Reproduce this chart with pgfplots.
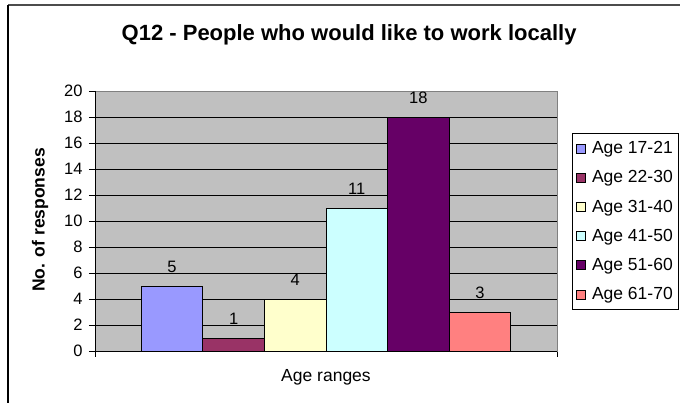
\documentclass[border=0pt]{standalone}
\usepackage{fontspec}
\setmainfont{Liberation Sans}
\usepackage{pgfplots}
\pgfplotsset{compat=1.18}

% Excel 2003 palette
\definecolor{cA}{HTML}{9999FF}
\definecolor{cB}{HTML}{993366}
\definecolor{cC}{HTML}{FFFFCC}
\definecolor{cD}{HTML}{CCFFFF}
\definecolor{cE}{HTML}{660066}
\definecolor{cF}{HTML}{FF8080}
\definecolor{plotbg}{HTML}{C0C0C0}

\begin{document}
\begin{tikzpicture}
\path[use as bounding box] (0pt,0pt) rectangle (680pt,403pt);
\draw[line width=1.2pt, black!70] (8pt,398pt) -- (700pt,398pt);
\draw[line width=1.2pt] (8pt,-10pt) -- (8pt,398pt);

\begin{axis}[
  at={(95pt,52pt)}, anchor=south west,
  scale only axis, width=462pt, height=260pt,
  ybar, bar shift=0pt, bar width=1,
  xmin=0, xmax=7.5, ymin=0, ymax=20,
  ytick={0,2,...,20},
  xtick={0,7.5}, xticklabels={},
  tick pos=left,
  tick align=outside, major tick length=6pt,
  tick style={black, line width=0.8pt},
  ymajorgrids, grid style={black, line width=0.8pt},
  axis line style={black!50, line width=0.8pt},
  axis background/.style={fill=plotbg},
  ticklabel style={font=\fontsize{16.5}{18}\selectfont},
  yticklabel style={xshift=-3pt},
  /pgf/number format/assume math mode=true,
  clip=false,
  title={\bfseries Q12 - People who would like to work locally},
  title style={font=\fontsize{22}{24}\selectfont, at={(axis description cs:0.55,1.192)}, anchor=center},
  xlabel={Age ranges},
  xlabel style={font=\fontsize{17.5}{19}\selectfont, at={(axis description cs:0.5,-0.1)}, anchor=center},
  ylabel={\bfseries No. of responses},
  ylabel style={font=\fontsize{17.5}{19}\selectfont, at={(axis description cs:-0.119,0.504)}, anchor=center, rotate=0},
  nodes near coords,
  every node near coord/.append style={font=\fontsize{16.5}{18}\selectfont, anchor=center, yshift=19pt, black},
  legend style={at={(axis description cs:1.0325,0.838)}, anchor=north west,
    draw=black, line width=0.8pt, font=\fontsize{17.5}{19}\selectfont,
    row sep=11.5pt, inner xsep=4pt, inner ysep=6pt, cells={anchor=west},
    /tikz/every odd column/.append style={column sep=4pt}},
  legend image code/.code={\draw[#1,draw=black,line width=0.6pt] (0pt,-4.5pt) rectangle (9pt,4.5pt);},
]
\addplot[fill=cA, draw=black, line width=0.8pt] coordinates {(1.25,5)};
\addplot[fill=cB, draw=black, line width=0.8pt] coordinates {(2.25,1)};
\addplot[fill=cC, draw=black, line width=0.8pt] coordinates {(3.25,4)};
\addplot[fill=cD, draw=black, line width=0.8pt] coordinates {(4.25,11)};
\addplot[fill=cE, draw=black, line width=0.8pt] coordinates {(5.25,18)};
\addplot[fill=cF, draw=black, line width=0.8pt] coordinates {(6.25,3)};
\legend{Age 17-21,Age 22-30,Age 31-40,Age 41-50,Age 51-60,Age 61-70}
\draw[black, line width=0.8pt] (rel axis cs:0,1) -- (rel axis cs:0,0) -- (rel axis cs:1,0);
\end{axis}
\end{tikzpicture}
\end{document}
